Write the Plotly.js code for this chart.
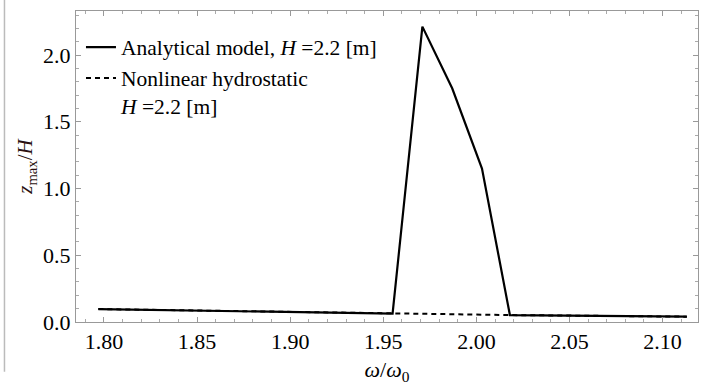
<!DOCTYPE html>
<html><head><meta charset="utf-8">
<script src="https://cdn.plot.ly/plotly-3.0.1.min.js"></script>
<style>body{margin:0;padding:0;background:#fff}#c{width:704px;height:385px}</style>
</head><body><div id="c"></div>
<script>
const freqAnalytical = [1.797, 1.955, 1.971, 1.987, 2.003, 2.018, 2.113];
const zAnalytical = [0.097, 0.063, 2.213, 1.751, 1.150, 0.052, 0.040];
const freqHydro = [1.797, 1.955, 1.971, 1.987, 2.003, 2.018, 2.113];
const zHydro = [0.097, 0.063, 0.061, 0.058, 0.055, 0.052, 0.040];
const names = ["Analytical model, <i>H</i> =2.2 [m]", "Nonlinear hydrostatic<br><i>H</i> =2.2 [m]"];
const xTicks = [1.80, 1.85, 1.90, 1.95, 2.00, 2.05, 2.10];
const xTickText = ["1.80", "1.85", "1.90", "1.95", "2.00", "2.05", "2.10"];
const yTicks = [0, 0.5, 1.0, 1.5, 2.0];
const yTickText = ["0.0", "0.5", "1.0", "1.5", "2.0"];

const font = "Liberation Serif, DejaVu Serif, serif";
const dashStyle = '5px,4px';
const traces = [
  {x: freqHydro, y: zHydro, name: names[1], mode: 'lines', line: {color: '#000', width: 2, dash: dashStyle}, showlegend: false},
  {x: freqAnalytical, y: zAnalytical, name: names[0], mode: 'lines', line: {color: '#000', width: 2.2}},
  {x: [null], y: [null], name: names[1], mode: 'lines', line: {color: '#000', width: 2, dash: dashStyle}}
];

const axisCommon = {
  showgrid: false, zeroline: false, showline: true, linecolor: '#999', linewidth: 1,
  mirror: 'ticks', ticks: 'inside', ticklen: 5, tickcolor: '#999', tickwidth: 1,
  tickfont: {family: font, size: 22, color: '#000'}
};
const layout = {
  width: 704, height: 385,
  margin: {l: 76, r: 6, t: 11, b: 62.5},
  paper_bgcolor: '#fff', plot_bgcolor: '#fff',
  font: {family: font, color: '#000'},
  xaxis: Object.assign({}, axisCommon, {
    range: [1.785, 2.119], tickvals: xTicks, ticktext: xTickText,
    minor: {dtick: 0.01, tick0: 1.80, ticks: 'inside', ticklen: 3, tickcolor: '#aaa'},
    title: {text: '<i>ω</i>/<i>ω</i><sub>0</sub>', font: {family: font, size: 22, color: '#000'}, standoff: 8}
  }),
  yaxis: Object.assign({}, axisCommon, {
    range: [0, 2.33], tickvals: yTicks, ticktext: yTickText,
    minor: {dtick: 0.1, tick0: 0, ticks: 'inside', ticklen: 3, tickcolor: '#aaa'},
    title: {text: '<i>z</i><sub>max</sub>/<i>H</i>', font: {family: font, size: 21, color: '#2a1010'}, standoff: 4}
  }),
  legend: {
    x: 0.008, y: 0.95, xanchor: 'left', yanchor: 'top', valign: 'top',
    bgcolor: 'rgba(255,255,255,0)', borderwidth: 0,
    font: {family: font, size: 21.5, color: '#000'},
    traceorder: 'normal', tracegroupgap: 0, itemwidth: 30
  },
  shapes: [
    {type: 'line', xref: 'paper', yref: 'paper', x0: -0.115, x1: -0.115, y0: -0.16, y1: 1.035, line: {color: '#bbb', width: 1.5}}
  ],
  showlegend: true
};
Plotly.newPlot('c', traces, layout, {staticPlot: true, displayModeBar: false});
</script></body></html>
